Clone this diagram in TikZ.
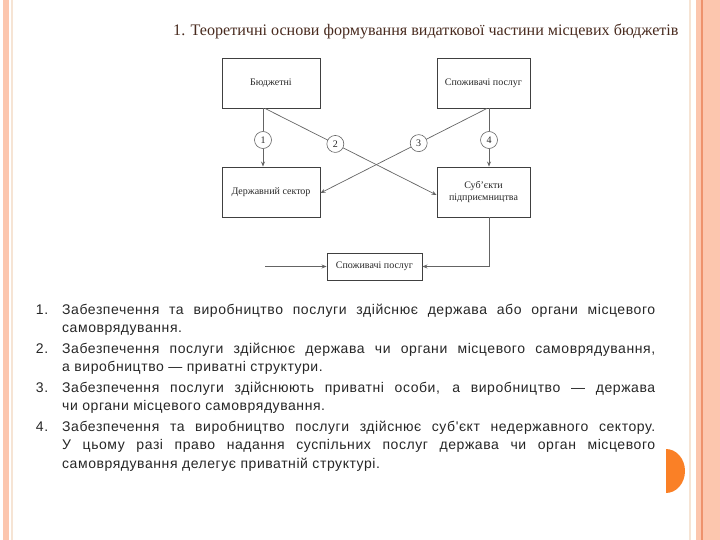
\documentclass[tikz,border=0pt]{standalone}
\usepackage{fontspec}
\setmainfont{Liberation Serif}
\setsansfont{Liberation Sans}
\newfontfamily\listfont{Liberation Sans}[LetterSpace=4]
\usepackage{xcolor}
\usetikzlibrary{arrows.meta,positioning,calc}

\definecolor{bandsalmon}{RGB}{252,198,174}
\definecolor{bandrust}{RGB}{238,146,108}
\definecolor{bandcream}{RGB}{246,228,212}
\definecolor{discorange}{RGB}{250,128,38}
\definecolor{titlebrown}{RGB}{72,42,30}
\definecolor{scangray}{RGB}{100,100,100}

\begin{document}
\begin{tikzpicture}[x=1pt,y=-1pt,
  box/.style={draw=black!75,line width=0.9pt,minimum width=98pt,minimum height=50pt,align=center,inner sep=2pt,font=\rmfamily\fontsize{10}{12}\selectfont,text=black!85},
  num/.style={circle,draw=scangray,fill=white,line width=0.6pt,minimum size=17pt,inner sep=0pt,font=\rmfamily\fontsize{10}{11}\selectfont,text=black!85},
  link/.style={draw=scangray,line width=0.7pt},
  item/.style={anchor=north west,text width=593pt,align=justify,inner sep=0pt,font=\listfont\fontsize{14}{18.3}\selectfont,text=black!85},
  >={Stealth[length=5pt,width=4pt]}]
\useasboundingbox (0,0) rectangle (720,540);
% page borders
\fill[bandsalmon] (3,0) rectangle (9,540);
\draw[bandcream,line width=1.5pt] (12,0) -- (12,540);
\fill[bandsalmon] (696,0) rectangle (720,540);
\draw[bandrust,line width=1.2pt] (702,0) -- (702,540);
\draw[bandcream,line width=1.5pt] (690,0) -- (690,540);
\fill[discorange] (666,449) -- (666,493) arc[start angle=90,end angle=-90,x radius=19,y radius=22] -- cycle;

\node[anchor=base west,inner sep=0pt,font=\rmfamily\fontsize{16.1}{18}\selectfont,text=titlebrown] (title) at (173,36)
  {1. Теоретичні основи формування видаткової частини місцевих бюджетів};

% scheme
\node[box] (budg) at (271,83) {Бюджетні};
\node[box,minimum width=93pt] (cons) at (483.5,83) {Споживачі послуг};
\node[box] (state) at (271,192) {Державний сектор};
\node[box,minimum width=93pt] (biz) at (483.5,192) {Суб'єкти\\підприємництва};
\node[box,minimum width=95pt,minimum height=27pt] (users) at (374.5,266.5) {Споживачі послуг};
\node[num] (n1) at (263,140) {1};
\node[num] (n4) at (489,140) {4};
\coordinate (feed) at (265,266.5);

\draw[link,->] (n1 |- budg.south) -- (n1) -- (n1 |- state.north);
\draw[link,->] (n4 |- cons.south) -- (n4) -- (n4 |- biz.north);
\draw[link,->] ([xshift=-6pt]budg.south) -- node[num,pos=0.41] (n2) {2} ([yshift=-3pt]biz.west);
\draw[link,->] ([xshift=3.5pt]cons.south) -- node[num,pos=0.41] (n3) {3} ([yshift=-1pt]state.east);
\draw[link,->] ([xshift=5.5pt]biz.south) |- (users.east);
\draw[link,->] (feed) -- (users.west);

% list
\node[item] (t1) at (62,304) {\llap{1.\hspace{14pt}}Забезпечення та виробництво послуги здійснює держава або органи місцевого\linebreak самоврядування.};
\node[item] (t2) at (62,343) {\llap{2.\hspace{14pt}}Забезпечення послуги здійснює держава чи органи місцевого самоврядування,\linebreak а виробництво — приватні структури.};
\node[item] (t3) at (62,382) {\llap{3.\hspace{14pt}}Забезпечення послуги здійснюють приватні особи, а виробництво — держава\linebreak чи органи місцевого самоврядування.};
\node[item] (t4) at (62,421) {\llap{4.\hspace{14pt}}Забезпечення та виробництво послуги здійснює суб'єкт недержавного сектору.\linebreak У цьому разі право надання суспільних послуг держава чи орган місцевого\linebreak самоврядування делегує приватній структурі.};
\end{tikzpicture}
\end{document}
